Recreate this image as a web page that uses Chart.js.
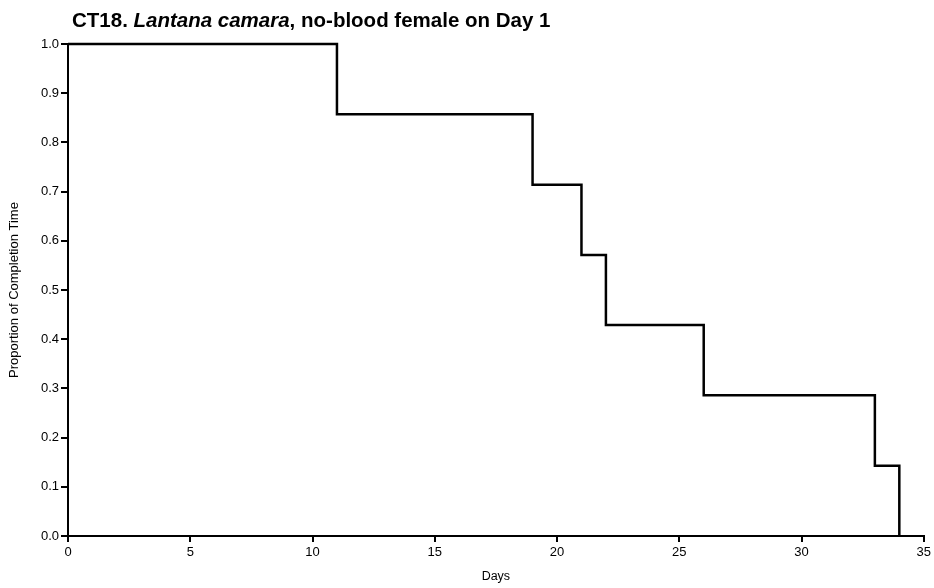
<!DOCTYPE html>
<html>
<head>
<meta charset="utf-8">
<script src="https://cdn.jsdelivr.net/npm/chart.js@4"></script>
<style>
  html, body { margin: 0; padding: 0; background: #fff; }
  #wrap { position: relative; width: 934px; height: 588px; }
</style>
</head>
<body>
<div id="wrap"><canvas id="kmChart" width="934" height="588"></canvas></div>
<script>
// survival steps
const days = [0, 11, 19, 21, 22, 26, 33, 34];
const proportion = [1.0, 0.857, 0.714, 0.571, 0.429, 0.286, 0.143, 0.0];
const xTicks = [0, 5, 10, 15, 20, 25, 30, 35];
const yTicks = [0.0, 0.1, 0.2, 0.3, 0.4, 0.5, 0.6, 0.7, 0.8, 0.9, 1.0];

const FONT = "'Liberation Sans', Arial, Helvetica, sans-serif";

// title has an italic species name, so draw it in pieces
const titlePlugin = {
	id: "mixedTitle",
	afterDraw(chart) {
		const c = chart.ctx;
		const parts = [
			["bold 20.5px " + FONT, "CT18. "],
			["italic bold 20.5px " + FONT, "Lantana camara"],
			["bold 20.5px " + FONT, ", no-blood female on Day 1"],
		];
		let x = 72;
		c.save();
		c.fillStyle = "#000";
		c.textBaseline = "alphabetic";
		for (const [f, t] of parts) {
			c.font = f;
			c.fillText(t, x, 27);
			x += c.measureText(t).width;
		}
		c.restore();
	},
};

const points = days.map((d, i) => ({ x: d, y: proportion[i] }));

new Chart(document.getElementById("kmChart"), {
	type: "line",
	data: {
		datasets: [
			{
				data: points,
				stepped: "before",
				borderColor: "#000",
				borderWidth: 2.5,
				pointRadius: 0,
				fill: false,
				clip: false,
			},
		],
	},
	options: {
		responsive: false,
		animation: false,
		layout: { padding: { top: 44, right: 8, left: 7, bottom: 0 } },
		plugins: { legend: { display: false }, tooltip: { enabled: false } },
		scales: {
			x: {
				type: "linear",
				min: 0,
				max: 35,
				afterBuildTicks: (s) => { s.ticks = xTicks.map((v) => ({ value: v })); },
				afterFit: (s) => { s.height = 52; },
				border: { color: "#000", width: 2 },
				grid: { drawOnChartArea: false, color: "#000", lineWidth: 2, tickLength: 6 },
				ticks: { color: "#000", font: { family: FONT, size: 13 }, padding: 3, maxRotation: 0 },
				title: { display: true, text: "Days", color: "#000", font: { family: FONT, size: 12.5 }, padding: { top: 3 } },
			},
			y: {
				type: "linear",
				min: 0,
				max: 1,
				afterBuildTicks: (s) => { s.ticks = yTicks.map((v) => ({ value: v })); },
				afterFit: (s) => { s.width = 61; },
				border: { color: "#000", width: 2 },
				grid: { drawOnChartArea: false, color: "#000", lineWidth: 2, tickLength: 7 },
				ticks: { color: "#000", font: { family: FONT, size: 13 }, padding: 2, callback: (v) => v.toFixed(1) },
				title: { display: true, text: "Proportion of Completion Time", color: "#000", font: { family: FONT, size: 13 }, padding: 0 },
			},
		},
	},
	plugins: [titlePlugin],
});
</script>
</body>
</html>
